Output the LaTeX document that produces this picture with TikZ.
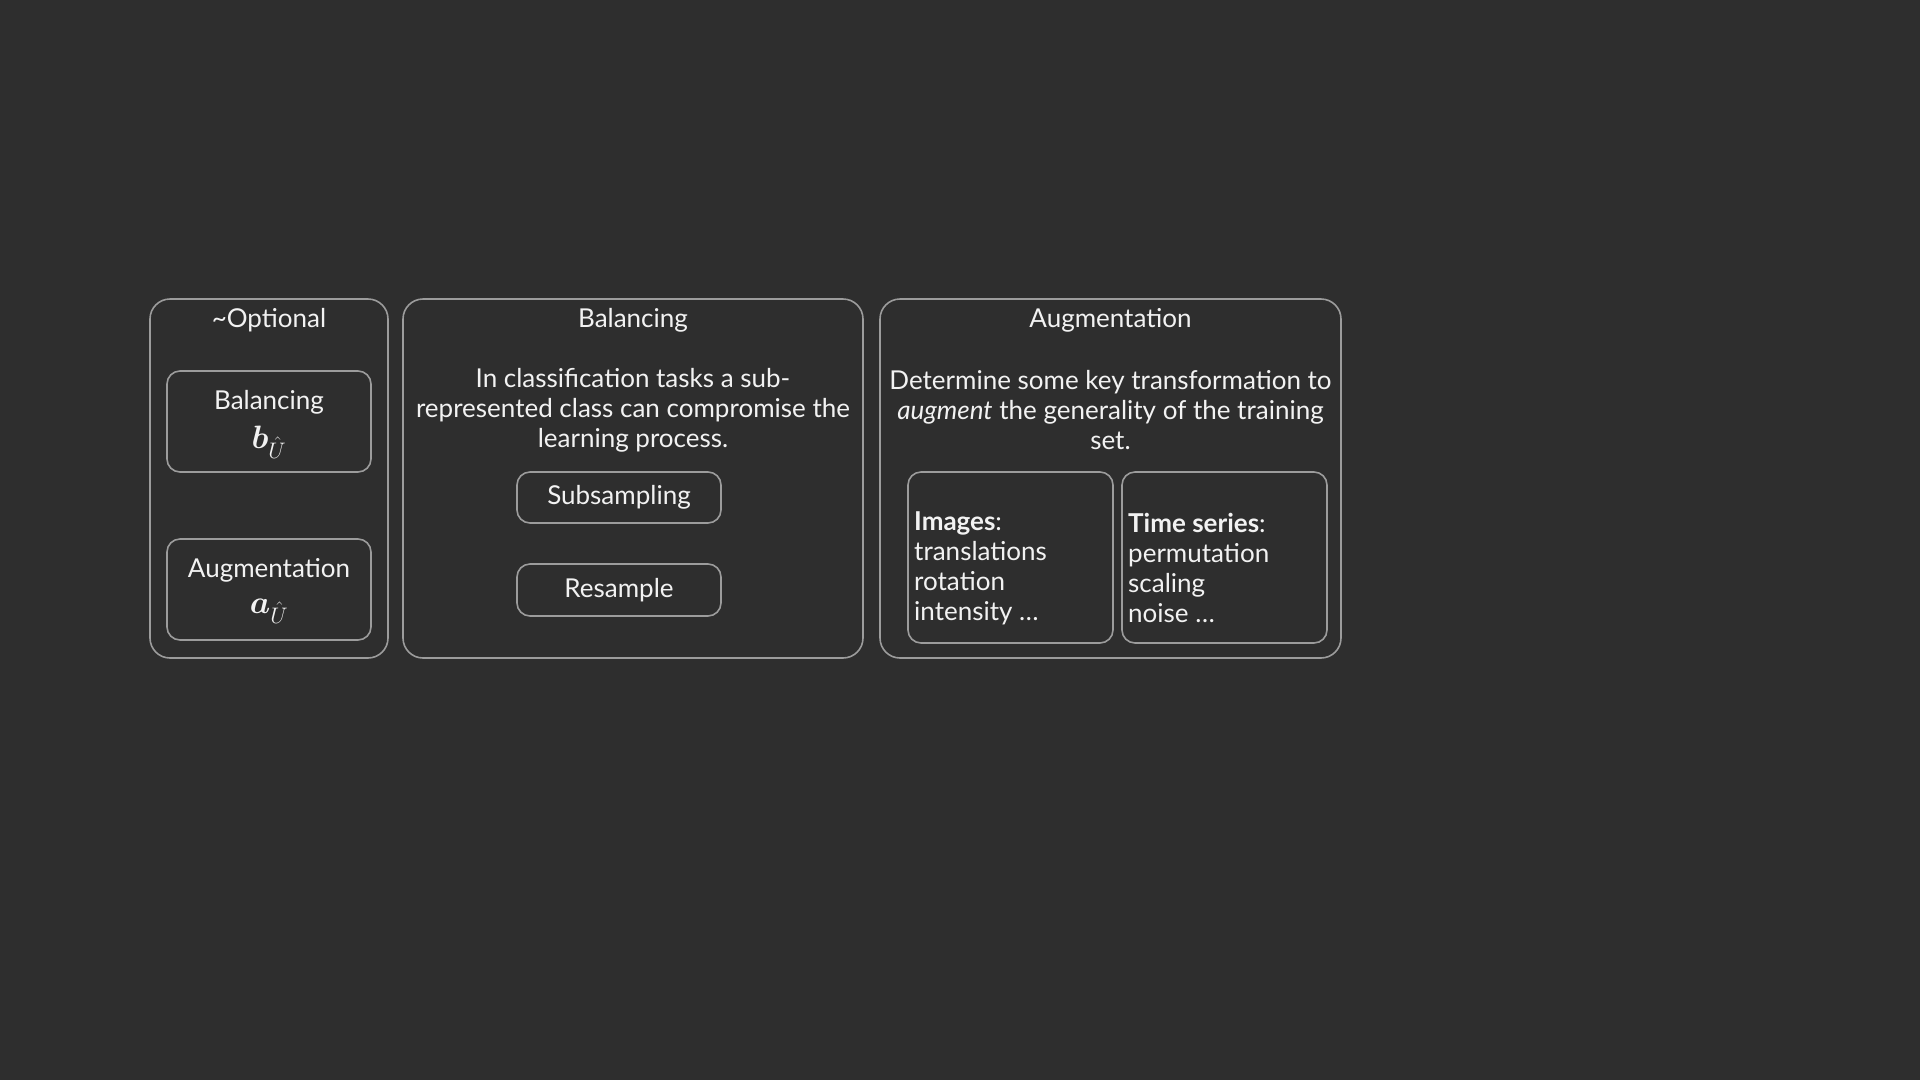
\documentclass[tikz,border=0pt]{standalone}
\usepackage{fontspec}
\setmainfont{Lato}
\usepackage{bm}
\definecolor{bg}{HTML}{2E2E2E}
\definecolor{edge}{HTML}{9C9C9C}
\definecolor{txt}{HTML}{F2F2F2}
\newcommand{\mathbig}[1]{\scalebox{1.3}{#1}}
\begin{document}
\begin{tikzpicture}[x=1pt,y=-1pt,
  every node/.style={text=txt,font=\fontsize{26}{30}\selectfont,inner sep=0pt},
  outerbox/.style={draw=edge,line width=1.6pt,rounded corners=20pt},
  innerbox/.style={draw=edge,line width=1.6pt,rounded corners=13pt,align=center},
  lbl/.style={align=center}]
\fill[bg] (0,0) rectangle (1920,1080);
\useasboundingbox (0,0) rectangle (1920,1080);
% Optional column
\node[outerbox,minimum width=238pt,minimum height=359pt] (opt) at (269,478.5) {};
\node[lbl] (optt) at (269,320) {\textasciitilde Optional};
\node[innerbox,minimum width=204pt,minimum height=101pt] (bal) at (269,421.5) {};
\node[lbl] (balname) at (269,402) {Balancing};
\node[lbl] (balsym) at (269,442) {\mathbig{$\bm{b}_{\hat{U}}$}};
\node[innerbox,minimum width=204pt,minimum height=101pt] (aug) at (269,589.5) {};
\node[lbl] (augname) at (269,570) {Augmentation};
\node[lbl] (augsym) at (269,611) {\mathbig{$\bm{a}_{\hat{U}}$}};
% Balancing column
\node[outerbox,minimum width=460pt,minimum height=359pt] (balbox) at (633,478.5) {};
\node[lbl] (balt) at (633,320) {Balancing};
\node[lbl] (baltext) at (633,410) {In classification tasks a sub-\\represented class can compromise the\\learning process.};
\node[innerbox,minimum width=204pt,minimum height=51pt] (sub) at (619,497.5) {Subsampling};
\node[innerbox,minimum width=204pt,minimum height=52pt] (res) at (619,590) {Resample};
% Augmentation column
\node[outerbox,minimum width=461pt,minimum height=359pt] (augbox) at (1110.5,478.5) {};
\node[lbl] (augt) at (1110.5,320) {Augmentation};
\node[lbl] (augtext) at (1110.5,410) {Determine some key transformation to\\\textit{augment} the generality of the training\\set.};
\node[innerbox,minimum width=205pt,minimum height=171pt] (img) at (1010.5,557.5) {};
\node[innerbox,minimum width=205pt,minimum height=171pt] (ts) at (1224.5,557.5) {};
\node[align=left,anchor=west] (imgt) at (914,568) {\textbf{Images}:\\translations\\rotation\\intensity …};
\node[align=left,anchor=west] (tst) at (1128,568) {\textbf{Time series}:\\permutation\\scaling\\noise …};
\end{tikzpicture}
\end{document}
